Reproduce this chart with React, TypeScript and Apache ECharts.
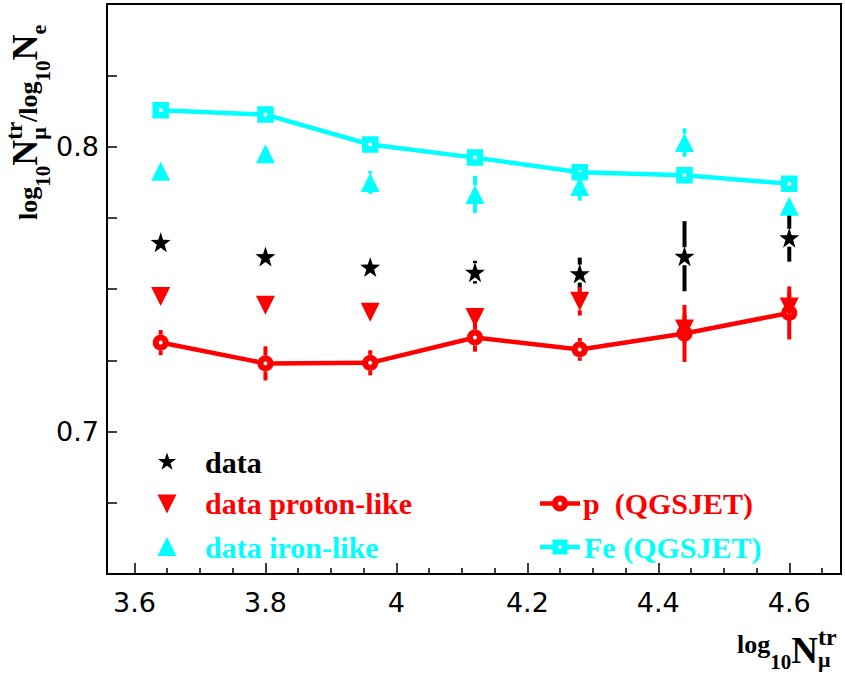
import React, { useEffect, useRef } from 'react';
import * as echarts from 'echarts';

// ---------- data ----------
const xValues = [3.64, 3.8, 3.96, 4.12, 4.28, 4.44, 4.6];

const dataAll = [0.7664, 0.7614, 0.7577, 0.7559, 0.7554, 0.7615, 0.768];
const dataAllErr = [0.001, 0.001, 0.001, 0.004, 0.0056, 0.0123, 0.0084];

const protonLike = [0.7474, 0.7443, 0.7418, 0.74, 0.7457, 0.736, 0.7437];
const protonLikeErr = [0.001, 0.001, 0.001, 0.003, 0.005, 0.005, 0.005];

const ironLike = [0.7913, 0.7975, 0.7874, 0.7832, 0.786, 0.8014, 0.779];
const ironLikeErr = [0.001, 0.0015, 0.004, 0.0065, 0.005, 0.005, 0.002];

const pQgsjet = [0.7312, 0.7239, 0.7241, 0.733, 0.7288, 0.7344, 0.7416];
const pQgsjetErr = [0.0044, 0.006, 0.0044, 0.005, 0.004, 0.01, 0.0093];

const feQgsjet = [0.8127, 0.8112, 0.8007, 0.7961, 0.791, 0.7899, 0.7869];
const feQgsjetErr = [0.001, 0.001, 0.001, 0.001, 0.001, 0.001, 0.001];

const xTickValues = [3.6, 3.8, 4.0, 4.2, 4.4, 4.6];
const xMinorTickValues = [3.65, 3.7, 3.75, 3.85, 3.9, 3.95, 4.05, 4.1, 4.15, 4.25, 4.3, 4.35, 4.45, 4.5, 4.55, 4.65];
const yLabelValues = [0.7, 0.8];

const legendLeft = ['data', 'data proton-like', 'data iron-like'];
const legendRight = ['p  (QGSJET)', 'Fe (QGSJET)'];

// ---------- styles ----------
const RED = '#ff0000';
const CYAN = '#00ffff';
const BLACK = '#000000';
const SERIF = '"Liberation Serif", "Times New Roman", serif';
const SANS = '"DejaVu Sans", sans-serif';

function starPoints(cx: number, cy: number, R: number, r: number): number[][] {
  const pts: number[][] = [];
  for (let i = 0; i < 10; i++) {
    const a = -Math.PI / 2 + (i * Math.PI) / 5;
    const rad = i % 2 === 0 ? R : r;
    pts.push([cx + rad * Math.cos(a), cy + rad * Math.sin(a)]);
  }
  return pts;
}

const STAR_PATH =
  'path://' +
  starPoints(0, 0, 10, 3.9)
    .map((p, i) => (i ? 'L' : 'M') + p[0].toFixed(3) + ' ' + p[1].toFixed(3))
    .join(' ') +
  ' Z';

type Piece = { t: string; size: number; dy: number; stack?: boolean };

function buildTitle(pieces: Piece[]) {
  const ctx = document.createElement('canvas').getContext('2d') as CanvasRenderingContext2D;
  let x = 0;
  let stackW = 0;
  const out: any[] = [];
  for (const p of pieces) {
    ctx.font = `bold ${p.size}px "Liberation Serif"`;
    const w = ctx.measureText(p.t).width;
    out.push({
      type: 'text',
      x,
      y: p.dy - 0.34 * p.size,
      style: {
        text: p.t,
        fontFamily: SERIF,
        fontWeight: 'bold',
        fontSize: p.size,
        fill: BLACK,
        align: 'left',
        verticalAlign: 'middle',
      },
    });
    if (p.stack) {
      stackW = Math.max(stackW, w);
    } else {
      x += Math.max(w, stackW);
      stackW = 0;
    }
  }
  return out;
}

const xTitlePieces: Piece[] = [
  { t: 'log', size: 26, dy: 0 },
  { t: '10', size: 21, dy: 16 },
  { t: 'N', size: 37, dy: 10 },
  { t: 'tr', size: 24, dy: -8, stack: true },
  { t: 'μ', size: 22, dy: 14 },
];

const yTitlePieces: Piece[] = [
  { t: 'log', size: 26, dy: 0 },
  { t: '10', size: 21, dy: 13 },
  { t: 'N', size: 36, dy: 0 },
  { t: 'tr', size: 23, dy: -15, stack: true },
  { t: 'μ', size: 22, dy: 9 },
  { t: '/log', size: 26, dy: 0 },
  { t: '10', size: 21, dy: 13 },
  { t: 'N', size: 36, dy: 0 },
  { t: 'e', size: 22, dy: 9 },
];

function errorSeries(values: number[], errs: number[], color: string, width: number, gap: number) {
  return {
    type: 'custom',
    silent: true,
    z: 3,
    data: xValues.map((x, i) => [x, values[i], values[i] - errs[i], values[i] + errs[i]]),
    encode: { x: 0, y: [1, 2, 3] },
    renderItem: (_params: any, api: any) => {
      const x = api.value(0);
      const c = api.coord([x, api.value(1)]);
      const lo = api.coord([x, api.value(2)]);
      const hi = api.coord([x, api.value(3)]);
      const children: any[] = [];
      if (lo[1] - c[1] > gap) {
        children.push({
          type: 'line',
          shape: { x1: c[0], y1: c[1] + gap, x2: c[0], y2: lo[1] },
          style: { stroke: color, lineWidth: width },
        });
      }
      if (c[1] - hi[1] > gap) {
        children.push({
          type: 'line',
          shape: { x1: c[0], y1: c[1] - gap, x2: c[0], y2: hi[1] },
          style: { stroke: color, lineWidth: width },
        });
      }
      return { type: 'group', children };
    },
  };
}

function legendGraphics() {
  const txt = (x: number, y: number, text: string, color: string) => ({
    type: 'text',
    x,
    y,
    style: {
      text,
      fontFamily: SERIF,
      fontWeight: 'bold',
      fontSize: 30,
      fill: color,
      align: 'left',
      verticalAlign: 'middle',
    },
  });
  const mx = 167;
  const rows = [462, 503.5, 547];
  return [
    { type: 'polygon', shape: { points: starPoints(mx, rows[0], 9.5, 3.7) }, style: { fill: BLACK } },
    {
      type: 'polygon',
      shape: { points: [[mx - 9.5, rows[1] - 9], [mx + 9.5, rows[1] - 9], [mx, rows[1] + 10]] },
      style: { fill: RED },
    },
    {
      type: 'polygon',
      shape: { points: [[mx - 9.5, rows[2] + 9], [mx + 9.5, rows[2] + 9], [mx, rows[2] - 10]] },
      style: { fill: CYAN },
    },
    txt(205, rows[0], legendLeft[0], BLACK),
    txt(205, rows[1], legendLeft[1], RED),
    txt(205, rows[2], legendLeft[2], CYAN),
    { type: 'line', shape: { x1: 540, y1: rows[1], x2: 580, y2: rows[1] }, style: { stroke: RED, lineWidth: 4.5 } },
    { type: 'circle', shape: { cx: 560, cy: rows[1], r: 5 }, style: { fill: '#fff', stroke: RED, lineWidth: 6 } },
    { type: 'line', shape: { x1: 540, y1: rows[2], x2: 580, y2: rows[2] }, style: { stroke: CYAN, lineWidth: 4.5 } },
    {
      type: 'rect',
      shape: { x: 555.5, y: rows[2] - 4.5, width: 9, height: 9 },
      style: { fill: '#fff', stroke: CYAN, lineWidth: 6 },
    },
    txt(583, rows[1], legendRight[0], RED),
    txt(584, rows[2], legendRight[1], CYAN),
  ];
}

export default function App() {
  const ref = useRef<HTMLDivElement>(null);

  useEffect(() => {
    if (!ref.current) return;
    const chart = echarts.init(ref.current, undefined, { renderer: 'svg' });
    const X_MIN = 3.558;
    const X_MAX = 4.679;

    const option: any = {
      animation: false,
      backgroundColor: '#ffffff',
      grid: {
        left: 107,
        right: 4,
        top: 4,
        bottom: 105,
        show: true,
        borderColor: BLACK,
        borderWidth: 2,
        backgroundColor: 'transparent',
        containLabel: false,
        outerBoundsMode: 'none',
      },
      xAxis: [
        {
          type: 'value',
          min: X_MIN,
          max: X_MAX,
          position: 'bottom',
          axisLine: { show: true, onZero: false, lineStyle: { color: BLACK, width: 2 } },
          axisTick: {
            show: true,
            inside: true,
            length: 11,
            customValues: xTickValues,
            lineStyle: { color: BLACK, width: 1.5 },
          },
          axisLabel: {
            show: true,
            customValues: xTickValues,
            margin: 15,
            fontFamily: SANS,
            fontSize: 27,
            color: BLACK,
            formatter: (v: number) => String(Math.round(v * 10) / 10),
          },
          splitLine: { show: false },
        },
        {
          type: 'value',
          min: X_MIN,
          max: X_MAX,
          position: 'bottom',
          axisLine: { show: false, onZero: false },
          axisTick: {
            show: true,
            inside: true,
            length: 6,
            customValues: xMinorTickValues,
            lineStyle: { color: BLACK, width: 1.5 },
          },
          axisLabel: { show: false },
          splitLine: { show: false },
        },
      ],
      yAxis: {
        type: 'value',
        min: 0.65,
        max: 0.85,
        interval: 0.025,
        axisLine: { show: true, onZero: false, lineStyle: { color: BLACK, width: 2 } },
        axisTick: { show: true, inside: true, length: 10, lineStyle: { color: BLACK, width: 1.5 } },
        axisLabel: {
          show: true,
          customValues: yLabelValues,
          margin: 8,
          fontFamily: SANS,
          fontSize: 27,
          color: BLACK,
          formatter: (v: number) => v.toFixed(1),
        },
        splitLine: { show: false },
      },
      series: [
        {
          type: 'line',
          name: legendRight[0],
          z: 2,
          data: xValues.map((x, i) => [x, pQgsjet[i]]),
          symbol: 'circle',
          symbolSize: 10,
          showAllSymbol: true,
          lineStyle: { color: RED, width: 4.5 },
          itemStyle: { color: '#ffffff', borderColor: RED, borderWidth: 6, opacity: 1 },
        },
        {
          type: 'line',
          name: legendRight[1],
          z: 2,
          data: xValues.map((x, i) => [x, feQgsjet[i]]),
          symbol: 'rect',
          symbolSize: 10,
          showAllSymbol: true,
          lineStyle: { color: CYAN, width: 4.5 },
          itemStyle: { color: '#ffffff', borderColor: CYAN, borderWidth: 6.5, opacity: 1 },
        },
        errorSeries(pQgsjet, pQgsjetErr, RED, 4, 8),
        errorSeries(feQgsjet, feQgsjetErr, CYAN, 4, 8),
        errorSeries(dataAll, dataAllErr, BLACK, 4, 9),
        errorSeries(protonLike, protonLikeErr, RED, 4, 9),
        errorSeries(ironLike, ironLikeErr, CYAN, 4, 9),
        {
          type: 'scatter',
          name: legendLeft[0],
          z: 4,
          data: xValues.map((x, i) => [x, dataAll[i]]),
          symbol: STAR_PATH,
          symbolSize: 20,
          itemStyle: { color: BLACK, opacity: 1 },
        },
        {
          type: 'scatter',
          name: legendLeft[1],
          z: 4,
          data: xValues.map((x, i) => [x, protonLike[i]]),
          symbol: 'triangle',
          symbolRotate: 180,
          symbolSize: [19, 19],
          itemStyle: { color: RED, opacity: 1 },
        },
        {
          type: 'scatter',
          name: legendLeft[2],
          z: 4,
          data: xValues.map((x, i) => [x, ironLike[i]]),
          symbol: 'triangle',
          symbolSize: [19, 19],
          itemStyle: { color: CYAN, opacity: 1 },
        },
      ],
      graphic: [
        { type: 'group', x: 737, y: 653, children: buildTitle(xTitlePieces) },
        { type: 'group', x: 37, y: 220, rotation: Math.PI / 2, children: buildTitle(yTitlePieces) },
        ...legendGraphics(),
      ],
    };

    chart.setOption(option);
    return () => {
      chart.dispose();
    };
  }, []);

  return (
    <div
      ref={ref}
      style={{ position: 'fixed', left: 0, top: 0, width: 845, height: 679, background: '#fff' }}
    />
  );
}
